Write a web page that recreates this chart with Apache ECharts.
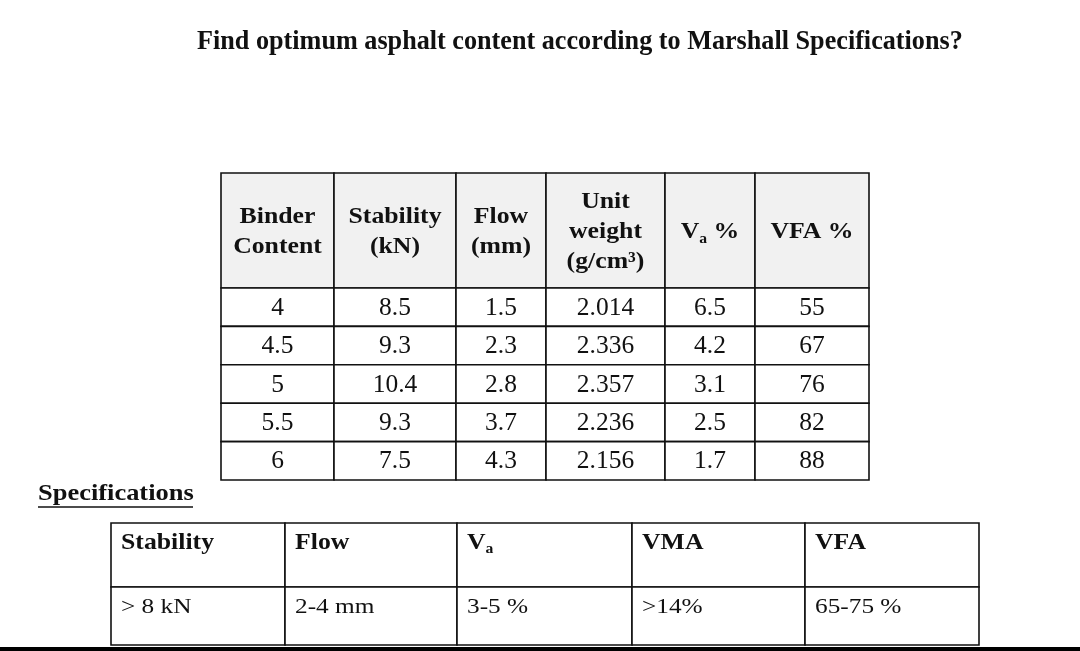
<!DOCTYPE html>
<html>
<head>
<meta charset="utf-8">
<script src="https://cdn.jsdelivr.net/npm/echarts@6/dist/echarts.min.js"></script>
<style>
  html, body { margin: 0; padding: 0; background: #fff; }
  #main { width: 1080px; height: 651px; }
</style>
</head>
<body>
<div id="main"></div>
<script>
// mix design results
var binderHeaders = ['Binder\nContent', 'Stability\n(kN)', 'Flow\n(mm)', 'Unit\nweight\n(g/cm³)', '{b|V}{sb|a}{b| %}', 'VFA %'];
var binderContent = [4, 4.5, 5, 5.5, 6];
var stability = [8.5, 9.3, 10.4, 9.3, 7.5];
var flow = [1.5, 2.3, 2.8, 3.7, 4.3];
var unitWeight = ['2.014', '2.336', '2.357', '2.236', '2.156'];
var airVoids = [6.5, 4.2, 3.1, 2.5, 1.7];
var vfa = [55, 67, 76, 82, 88];

// Marshall specifications
var specHeaders = ['Stability', 'Flow', '{b|V}{sb|a}', 'VMA', 'VFA'];
var specValues = ['> 8 kN', '2-4 mm', '3-5 %', '>14%', '65-75 %'];

var FONT = '"Liberation Serif", "Times New Roman", serif';

// table layout (px)
var topCols = [113, 122, 90, 119, 90, 114];
var topRows = [115, 38.4, 38.4, 38.4, 38.4, 38.4];
var specCols = [174, 172, 175, 173, 174];
var specRows = [64, 58];

function edges(arr) {
  var out = [0];
  arr.forEach(function (v) { out.push(out[out.length - 1] + v); });
  return out;
}
function sum(arr) { return arr.reduce(function (a, b) { return a + b; }, 0); }

var topColE = edges(topCols), topRowE = edges(topRows);
var specColE = edges(specCols), specRowE = edges(specRows);

// cells: [col, row, text]
var topCells = [];
binderHeaders.forEach(function (h, c) { topCells.push([c, 0, h]); });
[binderContent, stability, flow, unitWeight, airVoids, vfa].forEach(function (col, c) {
  col.forEach(function (v, r) { topCells.push([c, r + 1, String(v)]); });
});
var specCells = [];
specHeaders.forEach(function (h, c) { specCells.push([c, 0, h]); });
specValues.forEach(function (v, c) { specCells.push([c, 1, v]); });

var rich = function (size) {
  return {
    b: { fontFamily: FONT, fontWeight: 'bold', fontSize: size, lineHeight: size + 4, fill: '#111' },
    sb: { fontFamily: FONT, fontWeight: 'bold', fontSize: 14, lineHeight: 14, verticalAlign: 'bottom', fill: '#111' }
  };
};

function topRender(params, api) {
  var c = api.value(0), r = api.value(1);
  var p0 = api.coord([topColE[c], topRowE[r]]);
  var p1 = api.coord([topColE[c + 1], topRowE[r + 1]]);
  var header = r === 0;
  var text = topCells[params.dataIndex][2];
  return {
    type: 'group',
    children: [{
      type: 'rect',
      shape: { x: p0[0], y: p0[1], width: p1[0] - p0[0], height: p1[1] - p0[1] },
      style: { fill: header ? '#f1f1f1' : '#fff', stroke: '#111', lineWidth: 1.6 }
    }, {
      type: 'text',
      x: (p0[0] + p1[0]) / 2,
      y: (p0[1] + p1[1]) / 2 + (header ? 2 : 1),
      scaleX: header ? 1.12 : 1.02,
      style: {
        text: text,
        x: 0, y: 0,
        align: 'center', verticalAlign: 'middle',
        fontFamily: FONT,
        fontWeight: header ? 'bold' : 'normal',
        fontSize: header ? 23 : 25,
        lineHeight: header ? 30 : 26,
        fill: '#111',
        rich: header ? rich(23) : undefined
      }
    }]
  };
}

function specRender(params, api) {
  var c = api.value(0), r = api.value(1);
  var p0 = api.coord([specColE[c], specRowE[r]]);
  var p1 = api.coord([specColE[c + 1], specRowE[r + 1]]);
  var header = r === 0;
  var text = specCells[params.dataIndex][2];
  return {
    type: 'group',
    children: [{
      type: 'rect',
      shape: { x: p0[0], y: p0[1], width: p1[0] - p0[0], height: p1[1] - p0[1] },
      style: { fill: '#fff', stroke: '#111', lineWidth: 1.6 }
    }, {
      type: 'text',
      x: p0[0] + 10,
      y: p0[1] + 20,
      scaleX: header ? 1.12 : 1.15,
      style: {
        text: text,
        x: 0, y: 0,
        align: 'left', verticalAlign: 'middle',
        fontFamily: FONT,
        fontWeight: header ? 'bold' : 'normal',
        fontSize: header ? 23 : 22,
        fill: '#111',
        rich: header ? rich(23) : undefined
      }
    }]
  };
}

var chart = echarts.init(document.getElementById('main'));
chart.setOption({
  backgroundColor: '#fff',
  animation: false,
  grid: [
    { left: 221, top: 173, width: sum(topCols), height: sum(topRows) },
    { left: 111, top: 523, width: sum(specCols), height: sum(specRows) }
  ],
  xAxis: [
    { type: 'value', gridIndex: 0, min: 0, max: sum(topCols), show: false },
    { type: 'value', gridIndex: 1, min: 0, max: sum(specCols), show: false }
  ],
  yAxis: [
    { type: 'value', gridIndex: 0, min: 0, max: sum(topRows), inverse: true, show: false },
    { type: 'value', gridIndex: 1, min: 0, max: sum(specRows), inverse: true, show: false }
  ],
  graphic: [
    {
      type: 'text', x: 197, y: 42, scaleX: 0.935,
      style: { text: 'Find optimum asphalt content according to Marshall Specifications?', x: 0, y: 0, verticalAlign: 'middle', fontFamily: FONT, fontWeight: 'bold', fontSize: 28, fill: '#111' }
    },
    {
      type: 'text', x: 38, y: 494, scaleX: 1.15,
      style: { text: 'Specifications', x: 0, y: 0, verticalAlign: 'middle', fontFamily: FONT, fontWeight: 'bold', fontSize: 23, fill: '#111' }
    },
    {
      type: 'line', shape: { x1: 38, y1: 507, x2: 193, y2: 507 },
      style: { stroke: '#111', lineWidth: 1.6 }
    },
    {
      type: 'rect', shape: { x: 0, y: 647, width: 1080, height: 4 },
      style: { fill: '#000' }
    }
  ],
  series: [
    { type: 'custom', xAxisIndex: 0, yAxisIndex: 0, data: topCells, renderItem: topRender, silent: true },
    { type: 'custom', xAxisIndex: 1, yAxisIndex: 1, data: specCells, renderItem: specRender, silent: true }
  ]
});
</script>
</body>
</html>
